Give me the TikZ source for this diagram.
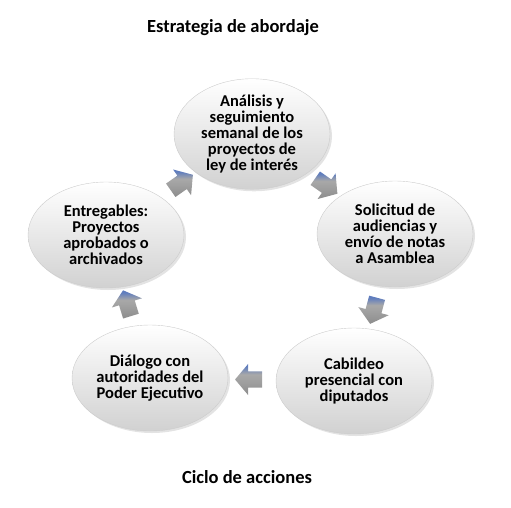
\documentclass[tikz,border=0pt]{standalone}
\usepackage{fontspec}
\setmainfont{Carlito}
\usetikzlibrary{shapes.geometric,shapes.arrows,shadows,calc}

\definecolor{arrowblue}{RGB}{95,125,190}
\pgfdeclareverticalshading{arrowshade}{100bp}{color(0bp)=(black!45); color(25bp)=(black!45);
    color(45bp)=(black!38); color(58bp)=(black!34); color(71bp)=(arrowblue); color(100bp)=(arrowblue)}

\begin{document}
\begin{tikzpicture}[
    x=1pt, y=-1pt,
    every node/.style={font=\bfseries\fontsize{16.5}{16}\selectfont, align=center, text=black},
    heading/.style={font=\bfseries\fontsize{18.5}{20}\selectfont},
    stage/.style={ellipse, minimum width=156pt, minimum height=106pt, inner sep=0pt,
        draw=black!20, top color=white, middle color=white, bottom color=black!18,
        drop shadow={opacity=0.22, shadow xshift=2pt, shadow yshift=-2pt}},
    cycarrow/.style={single arrow, draw=none, minimum height=27pt, minimum width=31pt,
        inner xsep=2pt, inner ysep=8pt, single arrow head extend=7.5pt, single arrow tip angle=100,
        rotate=#1, shading=arrowshade}
]
\useasboundingbox (0,0) rectangle (511,507);

% Titles
\node[heading] (title) at (233,28) {Estrategia de abordaje};
\node[heading] (caption) at (247,477) {Ciclo de acciones};

% Stages of the cycle
\node[stage] (analisis) at (252,134) {An\'alisis y\\seguimiento\\semanal de los\\proyectos de\\ley de inter\'es};
\node[stage] (solicitud) at (395,234) {Solicitud de\\audiencias y\\env\'io de notas\\a Asamblea};
\node[stage] (cabildeo) at (354,381) {Cabildeo\\presencial con\\diputados};
\node[stage] (dialogo) at (150,378) {Di\'alogo con\\autoridades del\\Poder Ejecutivo};
\node[stage] (entregables) at (106,235) {Entregables:\\Proyectos\\aprobados o\\archivados};

% Arrows between stages
\node[cycarrow=-35] (a1) at ($(analisis)!0.5!(solicitud)$) {};
\node[cycarrow=-105] (a2) at ($(solicitud)!0.5!(cabildeo)$) {};
\node[cycarrow=180] (a3) at ($(cabildeo)!0.5!(dialogo)$) {};
\node[cycarrow=107] (a4) at ($(dialogo)!0.5!(entregables)$) {};
\node[cycarrow=35] (a5) at ($(entregables)!0.5!(analisis)$) {};

\end{tikzpicture}
\end{document}
